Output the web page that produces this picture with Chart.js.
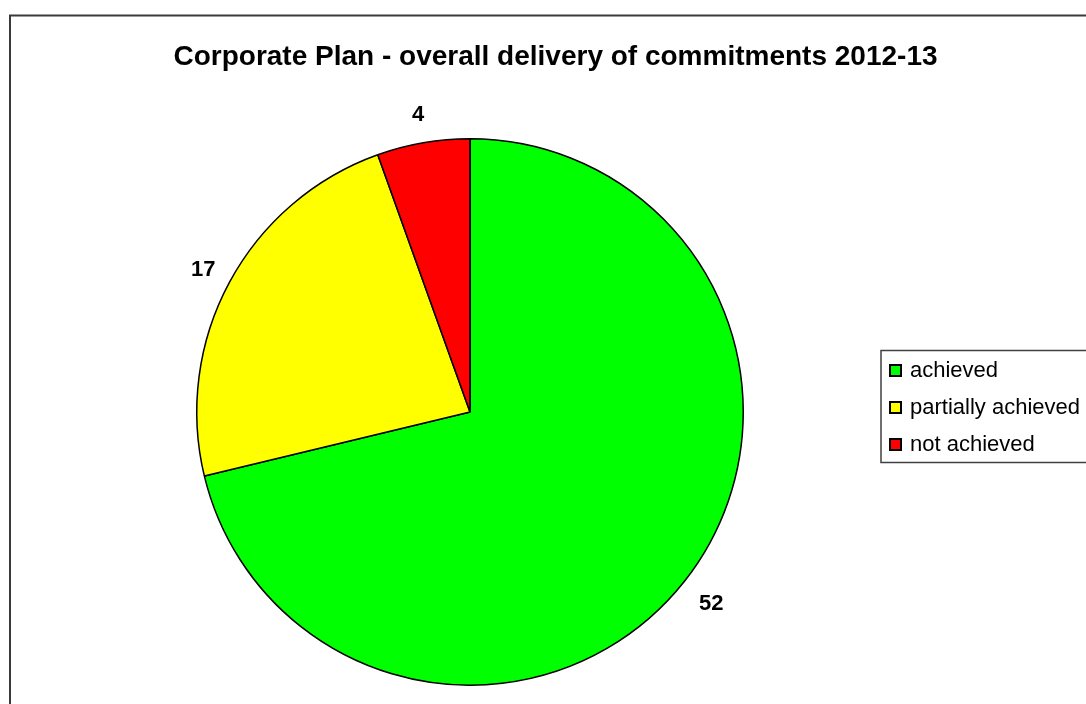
<!DOCTYPE html>
<html lang="en">
    <head>
        <meta charset="UTF-8" />
        <title>Corporate Plan - overall delivery of commitments 2012-13</title>
        <script src="https://cdn.jsdelivr.net/npm/chart.js@4/dist/chart.umd.min.js"></script>
        <style>
            html, body {
                margin: 0;
                padding: 0;
                background: #ffffff;
                overflow: hidden;
            }
            canvas {
                display: block;
            }
        </style>
    </head>
    <body>
        <canvas id="deliveryChart" width="1086" height="704"></canvas>
        <script>
            // Data
            const chartTitle = 'Corporate Plan - overall delivery of commitments 2012-13';
            const categories = ['achieved', 'partially achieved', 'not achieved'];
            const counts = [52, 17, 4];

            const sliceColours = ['#00ff00', '#ffff00', '#ff0000'];
            const FONT = '"Liberation Sans", Arial, sans-serif';

            // Frame, title, value labels and boxed legend, Excel style
            const excelDecor = {
                id: 'excelDecor',
                beforeDraw(chart) {
                    const ctx = chart.ctx;
                    ctx.save();
                    ctx.fillStyle = '#ffffff';
                    ctx.fillRect(0, 0, chart.width, chart.height);
                    ctx.strokeStyle = '#3a3a3a';
                    ctx.lineWidth = 2;
                    ctx.strokeRect(10, 15.5, chart.width + 40, chart.height + 40);
                    ctx.restore();
                },
                afterDatasetsDraw(chart) {
                    const ctx = chart.ctx;
                    const meta = chart.getDatasetMeta(0);
                    ctx.save();

                    // title
                    ctx.fillStyle = '#000000';
                    ctx.font = `bold 28px ${FONT}`;
                    ctx.textAlign = 'center';
                    ctx.textBaseline = 'alphabetic';
                    ctx.fillText(chartTitle, 555.5, 65);

                    // value labels outside each slice (a bit further out below the centre)
                    ctx.font = `bold 22px ${FONT}`;
                    meta.data.forEach((arc, i) => {
                        const mid = (arc.startAngle + arc.endAngle) / 2;
                        const dist = arc.outerRadius + 30 + 6 * Math.max(0, Math.sin(mid));
                        const x = arc.x + Math.cos(mid) * dist;
                        const y = arc.y + Math.sin(mid) * dist;
                        ctx.fillText(String(chart.data.datasets[0].data[i]), x, y + 0.358 * 22);
                    });

                    // legend
                    ctx.strokeStyle = '#404040';
                    ctx.lineWidth = 1.5;
                    ctx.strokeRect(881, 350.5, 300, 112);
                    ctx.font = `22px ${FONT}`;
                    ctx.textAlign = 'left';
                    chart.data.labels.forEach((label, i) => {
                        const base = 377 + i * 37;
                        ctx.fillStyle = chart.data.datasets[0].backgroundColor[i];
                        ctx.fillRect(889, base - 13, 13, 13);
                        ctx.strokeStyle = '#000000';
                        ctx.lineWidth = 2;
                        ctx.strokeRect(890, base - 12, 11, 11);
                        ctx.fillStyle = '#000000';
                        ctx.fillText(label, 910, base);
                    });
                    ctx.restore();
                }
            };

            new Chart(document.getElementById('deliveryChart'), {
                type: 'pie',
                data: {
                    labels: categories,
                    datasets: [{
                        data: counts,
                        backgroundColor: sliceColours,
                        borderColor: '#000000',
                        borderWidth: 1.5,
                        hoverOffset: 0,
                        offset: 0
                    }]
                },
                options: {
                    responsive: false,
                    animation: false,
                    events: [],
                    layout: {
                        padding: { left: 196, top: 138, right: 342, bottom: 18 }
                    },
                    plugins: {
                        legend: { display: false },
                        title: { display: false },
                        tooltip: { enabled: false }
                    }
                },
                plugins: [excelDecor]
            });
        </script>
    </body>
</html>
